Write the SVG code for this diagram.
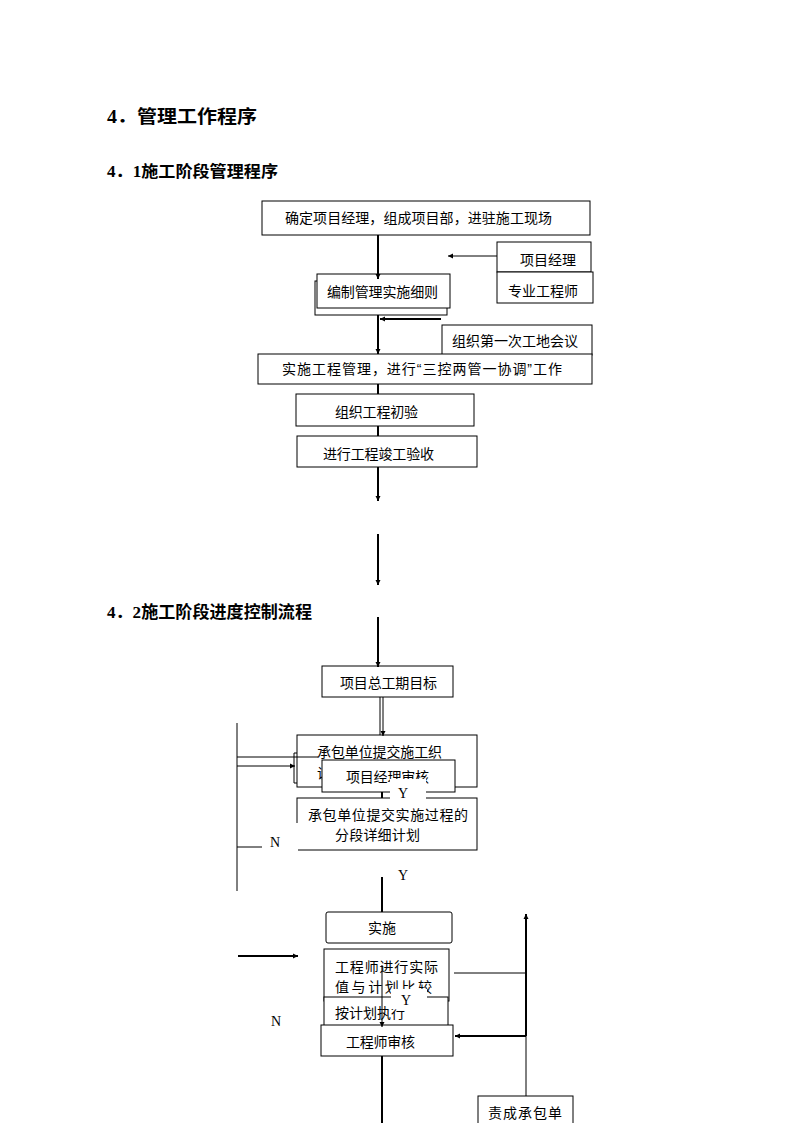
<svg xmlns="http://www.w3.org/2000/svg" width="794" height="1123" viewBox="0 0 794 1123">
<style>
.bg{fill:#fff}
.box{fill:#fff;stroke:#000;stroke-width:1}
.t{font-family:"Liberation Sans","Noto Sans CJK SC",sans-serif;font-size:14px;fill:#000}
.h{font-family:"Liberation Serif","Noto Sans CJK SC",serif;font-weight:bold;fill:#000}
.lbl{font-family:"Liberation Serif","Noto Sans CJK SC",serif;font-size:14px;fill:#000;text-anchor:middle}
.thin{stroke:#000;stroke-width:1;fill:none}
.thick{stroke:#000;stroke-width:2;fill:none}
.mask{fill:#fff;stroke:none}
</style>
<defs>
<marker id="arr" markerUnits="userSpaceOnUse" markerWidth="6" markerHeight="6" refX="5" refY="3" orient="auto">
<path d="M0,0.5 L5,3 L0,5.5 z" fill="#000"/>
</marker>
</defs>
<rect class="bg" x="0" y="0" width="794" height="1123"/>

<g id="headings">
<text class="h" x="107" y="123" font-size="18" textLength="150" lengthAdjust="spacingAndGlyphs">4．管理工作程序</text>
<text class="h" x="107" y="177" font-size="16" textLength="171" lengthAdjust="spacingAndGlyphs">4．1施工阶段管理程序</text>
<text class="h" x="107" y="618" font-size="17" textLength="205" lengthAdjust="spacingAndGlyphs">4．2施工阶段进度控制流程</text>
</g>

<g id="nodes">
<g id="n1"><rect class="box" x="262" y="201" width="328" height="34"/><text class="t" x="285" y="223" textLength="267">确定项目经理，组成项目部，进驻施工现场</text></g>
<g id="n2"><rect class="box" x="497" y="242" width="94" height="30"/><text class="t" x="520" y="265">项目经理</text></g>
<g id="n3"><rect class="box" x="497" y="272" width="96" height="31"/><text class="t" x="508" y="296">专业工程师</text></g>
<g id="n4"><rect class="box" x="315" y="281" width="132" height="34"/><rect class="box" x="317" y="274" width="133" height="34"/><text class="t" x="327" y="297" textLength="111">编制管理实施细则</text></g>
<g id="n5"><rect class="box" x="442" y="325" width="150" height="30"/><text class="t" x="452" y="346" textLength="126">组织第一次工地会议</text></g>
<g id="n6"><rect class="box" x="258" y="354" width="334" height="30"/><text class="t" x="282" y="374" textLength="280">实施工程管理，进行“三控两管一协调”工作</text></g>
<g id="n7"><rect class="box" x="296" y="394" width="178" height="32"/><text class="t" x="335" y="417" textLength="83">组织工程初验</text></g>
<g id="n8"><rect class="box" x="297" y="436" width="180" height="31"/><text class="t" x="323" y="459" textLength="111">进行工程竣工验收</text></g>

<g id="n9"><rect class="box" x="322" y="666" width="131" height="31"/><text class="t" x="340" y="688" textLength="97">项目总工期目标</text></g>
<g id="n10"><rect class="box" x="297" y="735" width="180" height="52"/><path class="thin" d="M297,753 H294 V783 H297"/><text class="t" x="317" y="757" textLength="125">承包单位提交施工织</text><text class="t" x="317" y="778">设计</text></g>
<g id="n11"><rect class="box" x="322" y="760" width="133" height="32"/><text class="t" x="346" y="782" textLength="83">项目经理审核</text></g>
<g id="n12"><rect class="box" x="297" y="798" width="180" height="52"/><text class="t" x="308" y="820" textLength="160">承包单位提交实施过程的</text><text class="t" x="335" y="840" textLength="85">分段详细计划</text></g>
<g id="n13"><rect class="box" x="326" y="912" width="126" height="31" rx="2"/><text class="t" x="368" y="933">实施</text></g>
<g id="n14"><rect class="box" x="324" y="949" width="125" height="52"/><text class="t" x="335" y="972" textLength="103">工程师进行实际</text><text class="t" x="335" y="992" textLength="97">值与计划比较</text></g>
<g id="n15"><rect class="box" x="324" y="997" width="124" height="31"/><text class="t" x="335" y="1018" textLength="70">按计划执行</text></g>
<g id="n16"><rect class="box" x="321" y="1025" width="132" height="31"/><text class="t" x="346" y="1047" textLength="69">工程师审核</text></g>
<g id="n17"><rect class="box" x="478" y="1096" width="95" height="40"/><text class="t" x="488" y="1118" textLength="74">责成承包单</text></g>
</g>

<g id="connectors">
<line class="thick" x1="378" y1="235" x2="378" y2="279" marker-end="url(#arr)"/>
<line class="thin" x1="497" y1="256" x2="448" y2="256" marker-end="url(#arr)"/>
<line class="thick" x1="378" y1="315" x2="378" y2="354" marker-end="url(#arr)"/>
<line class="thick" x1="441" y1="319" x2="380" y2="319" marker-end="url(#arr)"/>
<line class="thick" x1="378" y1="384" x2="378" y2="394"/>
<line class="thick" x1="378" y1="426" x2="378" y2="436"/>
<line class="thick" x1="378" y1="467" x2="378" y2="501" marker-end="url(#arr)"/>
<line class="thick" x1="378" y1="534" x2="378" y2="585" marker-end="url(#arr)"/>
<line class="thick" x1="378" y1="617" x2="378" y2="667" marker-end="url(#arr)"/>
<line class="thin" x1="380" y1="697" x2="380" y2="735" stroke-width="1.5"/>
<line class="thin" x1="383" y1="697" x2="383" y2="736" stroke-width="1.5" marker-end="url(#arr)"/>
<line class="thin" x1="237" y1="723" x2="237" y2="891"/>
<line class="thin" x1="237" y1="757" x2="318" y2="757"/>
<line class="thin" x1="237" y1="766" x2="295" y2="766" marker-end="url(#arr)"/>
<line class="thin" x1="237" y1="847" x2="262" y2="847"/>
<line class="thick" x1="382" y1="792" x2="382" y2="798"/>
<line class="thick" x1="382" y1="877" x2="382" y2="912"/>
<line class="thick" x1="238" y1="956" x2="298" y2="956" marker-end="url(#arr)"/>
<line class="thin" x1="382" y1="965" x2="382" y2="1027" stroke-width="1.5" marker-end="url(#arr)"/>
<line class="thick" x1="526" y1="1036" x2="526" y2="914" marker-end="url(#arr)"/>
<line class="thin" x1="526" y1="1036" x2="526" y2="1096"/>
<line class="thin" x1="454" y1="973" x2="526" y2="973"/>
<line class="thick" x1="526" y1="1036" x2="455" y2="1036" marker-end="url(#arr)"/>
<line class="thick" x1="382" y1="1056" x2="382" y2="1123"/>
</g>

<g id="labels">
<rect class="mask" x="390" y="779" width="36" height="21"/>
<text class="lbl" x="403" y="798">Y</text>
<rect class="mask" x="262" y="823" width="36" height="28"/>
<text class="lbl" x="275" y="847">N</text>
<text class="lbl" x="403" y="880">Y</text>
<rect class="mask" x="391" y="989" width="36" height="20"/>
<text class="lbl" x="406" y="1005">Y</text>
<text class="lbl" x="276" y="1026">N</text>
</g>
</svg>
